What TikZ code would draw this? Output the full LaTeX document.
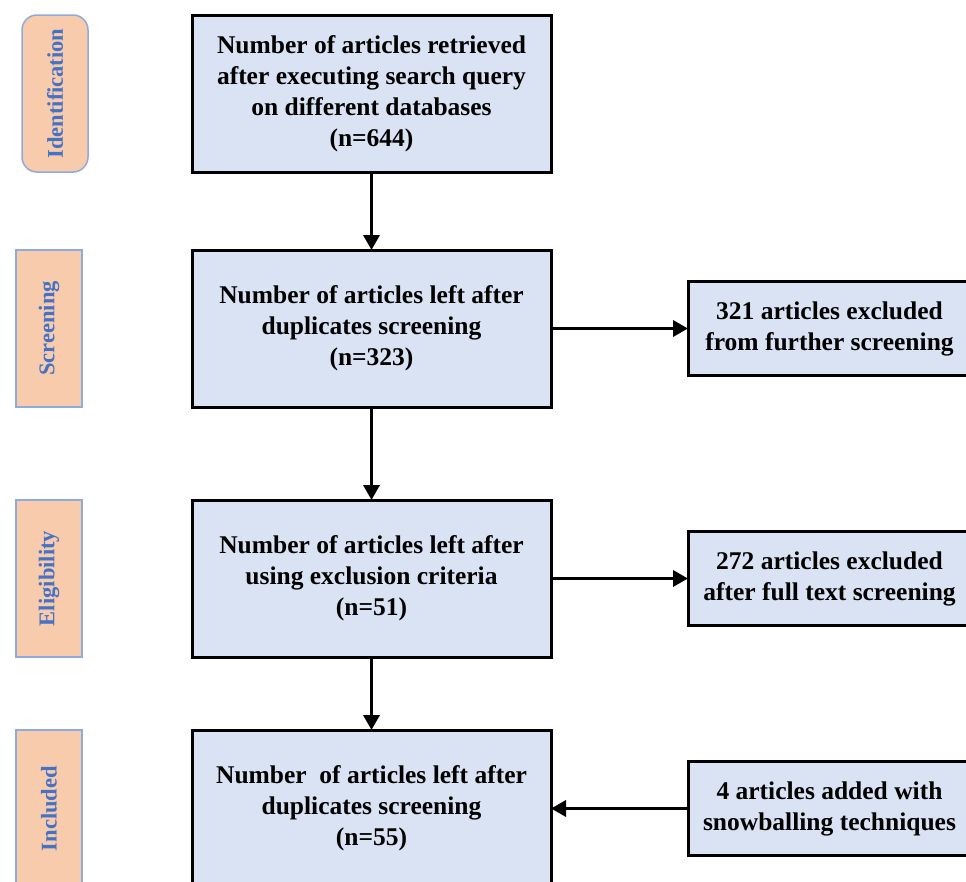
\documentclass[tikz,border=0pt]{standalone}
\usepackage{fontspec}
\setmainfont{Liberation Serif}
\usetikzlibrary{arrows.meta,positioning}
\definecolor{boxFill}{HTML}{DAE3F3}
\definecolor{stageFill}{HTML}{F8CBAD}
\definecolor{stageLine}{HTML}{8FAADC}
\definecolor{stageInk}{HTML}{4472C4}
\tikzset{
  mainbox/.style={draw=black, line width=3pt, fill=boxFill, outer sep=0pt,
                  minimum width=359pt, minimum height=157pt, inner sep=2pt,
                  align=center, font=\fontsize{25.5}{31}\selectfont\bfseries},
  sidebox/.style={mainbox, minimum width=283pt, minimum height=94pt},
  stagebox/.style={draw=stageLine, line width=1.5pt, fill=stageFill, outer sep=0pt,
                   text=stageInk, minimum width=66pt, minimum height=157pt,
                   inner sep=0pt, font=\fontsize{22.5}{27}\selectfont\bfseries},
  flow/.style={-{Triangle[length=15pt,width=16pt]}, line width=3.5pt},
}
\begin{document}
\begin{tikzpicture}[x=1pt, y=1pt]
  \clip (0,0) rectangle (966,-881);
  % main column
  \node[mainbox] (ident) at (371.5,-93.5)
    {Number of articles retrieved\\after executing search query\\on different databases\\(n=644)};
  \node[mainbox, below=78pt of ident] (scr)
    {Number of articles left after\\duplicates screening\\(n=323)};
  \node[mainbox, below=93pt of scr] (elig)
    {Number of articles left after\\using exclusion criteria\\(n=51)};
  \node[mainbox, below=73pt of elig] (incl)
    {Number\ \ of articles left after\\duplicates screening\\(n=55)};
  % side boxes
  \node[sidebox, right=137pt of scr] (exclA)
    {321 articles excluded\\from further screening};
  \node[sidebox, right=137pt of elig] (exclB)
    {272 articles excluded\\after full text screening};
  \node[sidebox, right=137pt of incl] (added)
    {4 articles added with\\snowballing techniques};
  % stage labels
  \node[stagebox, rounded corners=15pt, left=104pt of ident] (stIdent)
    {\rotatebox{90}{Identification}};
  \node[stagebox, left=110pt of scr] (stScr) {\rotatebox{90}{Screening}};
  \node[stagebox, left=110pt of elig] (stElig) {\rotatebox{90}{Eligibility}};
  \node[stagebox, left=110pt of incl] (stIncl) {\rotatebox{90}{Included}};
  % connectors
  \draw[flow] (ident) -- (scr);
  \draw[flow] (scr) -- (elig);
  \draw[flow] (elig) -- (incl);
  \draw[flow] (scr) -- (exclA);
  \draw[flow] (elig) -- (exclB);
  \draw[flow] (added) -- (incl);
\end{tikzpicture}
\end{document}
